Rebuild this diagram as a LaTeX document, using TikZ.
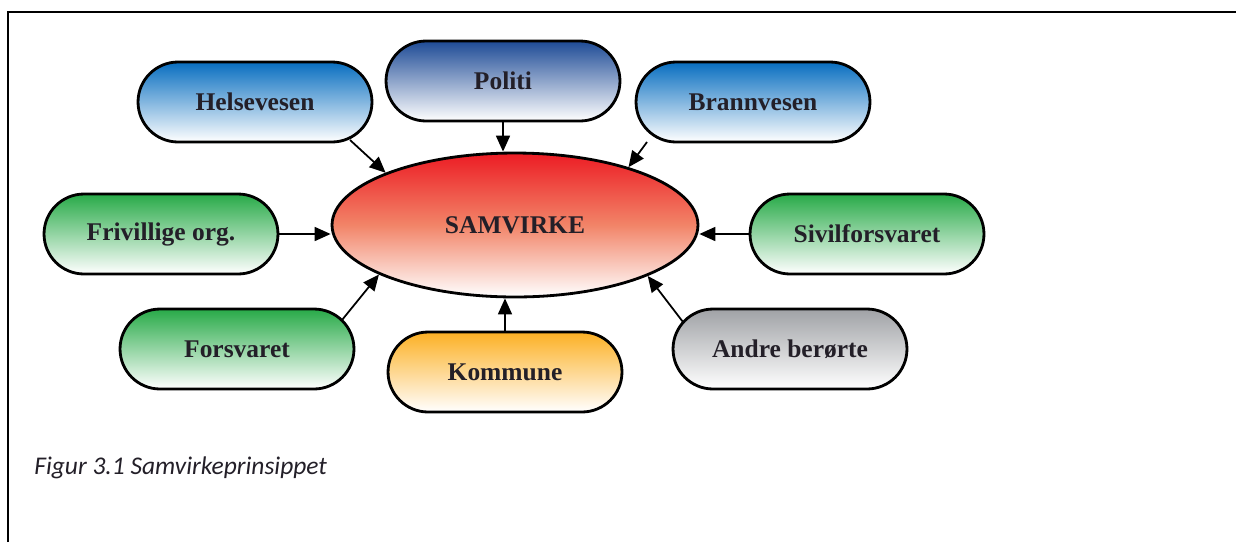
\documentclass[tikz,border=0pt]{standalone}
\usepackage{fontspec}
\setmainfont{Liberation Serif}
\newfontfamily\captionfont{Carlito}
\usetikzlibrary{arrows.meta,shapes.geometric,calc}

\definecolor{blueTop}{RGB}{8,110,192}
\definecolor{navyTop}{RGB}{30,75,150}
\definecolor{greenTop}{RGB}{40,170,72}
\definecolor{orangeTop}{RGB}{252,176,36}
\definecolor{grayTop}{RGB}{160,162,166}
\definecolor{redTop}{RGB}{236,28,36}
\definecolor{salmonMid}{RGB}{242,132,104}
\definecolor{textDark}{RGB}{35,31,40}

\tikzset{
    unit/.style={draw=black, line width=1.6pt, rounded corners=0.8cm,
        minimum width=4.68cm, minimum height=1.6cm, text=textDark,
        font=\fontsize{14.5}{17}\selectfont\bfseries},
    bluebox/.style={unit, top color=blueTop, bottom color=white},
    navybox/.style={unit, top color=navyTop, bottom color=white},
    greenbox/.style={unit, top color=greenTop, bottom color=white},
    orangebox/.style={unit, top color=orangeTop, bottom color=white},
    graybox/.style={unit, top color=grayTop, bottom color=white},
    arr/.style={-{Triangle[length=0.32cm,width=0.28cm]}, line width=1pt},
}

\begin{document}
\begin{tikzpicture}[x=0.02cm, y=-0.02cm]
    \useasboundingbox (0,0) rectangle (1236,542);
    % \draw[help lines, step=50] (0,0) grid (1236,542);
    \draw[line width=1.7pt] (8,542) -- (8,12) -- (1236,12);

    \node[ellipse, draw=black, line width=1.6pt, inner sep=0pt,
        minimum width=7.32cm, minimum height=2.88cm,
        top color=redTop, bottom color=white, middle color=salmonMid, text=textDark,
        font=\fontsize{14.5}{17}\selectfont\bfseries] (samvirke) at (515,225) {SAMVIRKE};

    \node[bluebox]   (helse)   at (255,102) {Helsevesen};
    \node[navybox]   (politi)  at (503,81)  {Politi};
    \node[bluebox]   (brann)   at (753,102) {Brannvesen};
    \node[greenbox]  (friv)    at (161,234) {Frivillige org.};
    \node[greenbox]  (sivil)   at (867,234) {Sivilforsvaret};
    \node[greenbox]  (forsv)   at (237,349) {Forsvaret};
    \node[orangebox] (kommune) at (505,372) {Kommune};
    \node[graybox]   (andre)   at (790,349) {Andre berørte};

    \draw[arr] ($(helse.center)+(95,38)$) -- (samvirke.158);
    \draw[arr] (politi.south) -- (politi.south |- samvirke.north);
    \draw[arr] ($(brann.center)+(-106,40)$) -- (samvirke.27);
    \draw[arr] (friv.east) -- (friv.east -| samvirke.west);
    \draw[arr] (sivil.west) -- (sivil.west -| samvirke.east);
    \draw[arr] ($(forsv.center)+(105,-29)$) -- (samvirke.200);
    \draw[arr] (kommune.north) -- (kommune.north |- samvirke.south);
    \draw[arr] ($(andre.center)+(-107,-27)$) -- (samvirke.-21);

    \node[anchor=west, inner sep=0pt, text=textDark,
        font=\captionfont\itshape\fontsize{14.5}{17}\selectfont] (caption) at (34,468) {Figur 3.1 Samvirkeprinsippet};
\end{tikzpicture}
\end{document}
